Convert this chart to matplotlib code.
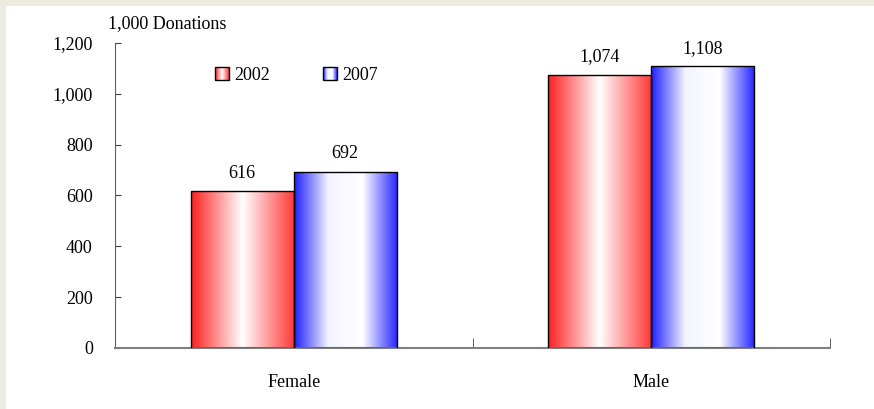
import numpy as np
import matplotlib.pyplot as plt
from matplotlib.colors import LinearSegmentedColormap
from matplotlib.patches import Rectangle, Patch
from matplotlib.legend_handler import HandlerBase
from matplotlib.ticker import FuncFormatter, FixedLocator

# --- data ---
categories = ['Female', 'Male']
years = ['2002', '2007']
donations_2002 = [616, 1074]
donations_2007 = [692, 1108]
y_ticks = [0, 200, 400, 600, 800, 1000, 1200]

plt.rcParams['font.family'] = ['Liberation Serif', 'DejaVu Serif']
plt.rcParams['font.size'] = 13


class GradientHandler(HandlerBase):
    """Legend key as a small gradient-filled square."""
    def __init__(self, cmap, n=14):
        super().__init__()
        self.cmap = cmap
        self.n = n

    def create_artists(self, legend, orig_handle, xdescent, ydescent, width, height,
                       fontsize, trans):
        arts = []
        step = width / self.n
        for i in range(self.n):
            arts.append(Rectangle((-xdescent + i * step, -ydescent), step * 1.05, height,
                                  facecolor=self.cmap((i + 0.5) / self.n),
                                  edgecolor='none', transform=trans))
        arts.append(Rectangle((-xdescent, -ydescent), width, height, facecolor='none',
                              edgecolor='black', linewidth=1, transform=trans))
        return arts


fig = plt.figure(figsize=(8.74, 4.09), dpi=100, facecolor='#ececde')
# white panel with thin beige strip at top and left
fig.add_artist(Rectangle((6 / 874, 0), 1, 1 - 6 / 409, transform=fig.transFigure,
                         facecolor='white', edgecolor='none', zorder=-1))

ax = fig.add_axes([115 / 874, 1 - 348 / 409, 715 / 874, 305 / 409])
ax.set_facecolor('none')

x = np.arange(len(categories))
width = 0.288

red_cmap = LinearSegmentedColormap.from_list('reds', ['#ff1f1f', '#ffffff', '#ff3a3a'])
blue_cmap = LinearSegmentedColormap.from_list('blues', ['#1f1fff', '#f4f4ff', '#ffffff', '#2a2aff'])
grad = np.linspace(0, 1, 256).reshape(1, -1)

bars_a = ax.bar(x - width / 2, donations_2002, width, facecolor='none',
                edgecolor='black', linewidth=1, zorder=3)
bars_b = ax.bar(x + width / 2, donations_2007, width, facecolor='none',
                edgecolor='black', linewidth=1, zorder=3)

for bars, cmap in ((bars_a, red_cmap), (bars_b, blue_cmap)):
    for b in bars:
        x0, y0 = b.get_x(), b.get_y()
        ax.imshow(grad, cmap=cmap, aspect='auto', zorder=2,
                  extent=(x0, x0 + b.get_width(), y0, y0 + b.get_height()))
        ax.annotate(f'{b.get_height():,.0f}', (x0 + b.get_width() / 2, b.get_height()),
                    xytext=(0, 7), textcoords='offset points', ha='center', va='bottom')

ax.set_xlim(-0.5, 1.5)
ax.set_ylim(0, 1200)
ax.set_yticks(y_ticks)
ax.yaxis.set_major_formatter(FuncFormatter(lambda v, p: f'{int(v):,}'))
ax.tick_params(axis='y', direction='in', length=4, pad=16, color='#404040')

ax.set_xticks(x)
ax.set_xticklabels(categories)
ax.xaxis.set_minor_locator(FixedLocator([-0.5, 0.5, 1.5]))
ax.tick_params(axis='x', which='major', length=0, pad=19)
ax.tick_params(axis='x', which='minor', direction='in', length=7, color='#404040')

for side in ('top', 'right'):
    ax.spines[side].set_visible(False)
ax.spines['left'].set_color('#606060')
ax.spines['bottom'].set_color('#808080')
ax.spines['bottom'].set_linewidth(1.5)

ax.text(-0.01, 1.035, '1,000 Donations', transform=ax.transAxes, ha='left', va='bottom')

handles = [Patch(label=years[0]), Patch(label=years[1])]
ax.legend(handles=handles, loc='upper left', bbox_to_anchor=(0.14, 0.922), ncol=2,
          frameon=False, borderaxespad=0, borderpad=0, handlelength=0.75,
          handleheight=0.75, handletextpad=0.3, columnspacing=2.95,
          handler_map={handles[0]: GradientHandler(red_cmap),
                       handles[1]: GradientHandler(blue_cmap)})

fig.savefig('out.png', dpi=100, facecolor=fig.get_facecolor())
